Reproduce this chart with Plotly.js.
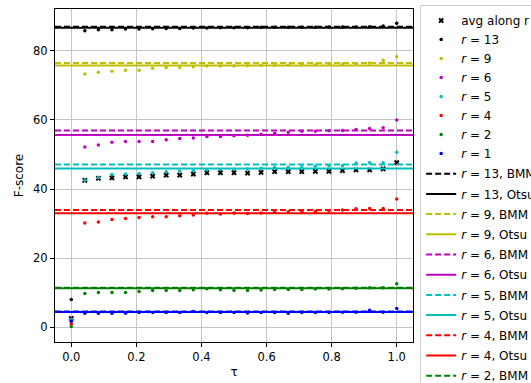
<!DOCTYPE html>
<html>
<head>
<meta charset="utf-8">
<script src="https://cdn.plot.ly/plotly-3.0.1.min.js"></script>
<style>html,body{margin:0;padding:0;background:#fff;}#chart{width:531px;height:383px;}</style>
</head>
<body>
<div id="chart"></div>
<script>
// tau values (x positions)
const tau = [0.0000, 0.0417, 0.0833, 0.1250, 0.1667, 0.2083, 0.2500, 0.2917, 0.3333, 0.3750,
             0.4167, 0.4583, 0.5000, 0.5417, 0.5833, 0.6250, 0.6667, 0.7083, 0.7500, 0.7917,
             0.8333, 0.8750, 0.9167, 0.9583, 1.0000];

const avgR = [2.6, 42.5, 43.1, 43.2, 43.5, 43.5, 43.7, 44.0, 44.0, 44.3, 44.7, 44.7, 44.7,
              44.6, 44.8, 45.0, 45.0, 45.0, 45.1, 45.1, 45.3, 45.5, 45.5, 45.8, 47.6];
const r13 = [8.1, 85.7, 86.0, 86.0, 86.2, 86.2, 86.3, 86.4, 86.4, 86.5, 86.5, 86.6, 86.6,
             86.6, 86.7, 86.7, 86.7, 86.7, 86.7, 86.8, 86.8, 86.8, 86.9, 87.1, 87.9];
const r9  = [2.3, 73.2, 73.7, 74.0, 74.3, 74.3, 74.9, 75.1, 75.1, 75.3, 75.5, 75.5, 75.5,
             75.6, 75.7, 75.7, 75.8, 75.8, 75.9, 76.0, 76.1, 76.2, 76.4, 77.2, 78.2];
const r6  = [2.4, 52.1, 52.7, 53.5, 53.7, 53.7, 53.7, 54.2, 54.6, 54.7, 55.2, 55.2, 55.4,
             55.5, 55.8, 56.1, 56.4, 56.7, 56.7, 56.8, 56.9, 57.2, 57.5, 57.7, 59.9];
const r5  = [2.2, 42.5, 43.3, 44.2, 44.3, 44.5, 44.7, 45.0, 45.2, 45.3, 45.5, 45.6, 45.7,
             45.8, 46.0, 46.2, 46.3, 46.4, 46.6, 46.7, 46.8, 47.5, 47.6, 47.6, 50.6];
const r4  = [1.1, 30.2, 30.5, 31.2, 31.5, 31.8, 32.0, 32.0, 32.3, 32.5, 33.0, 32.8, 33.1,
             32.9, 33.1, 33.3, 33.4, 33.5, 33.5, 33.7, 33.9, 34.3, 34.4, 34.4, 37.1];
const r2  = [0.3, 9.8, 10.1, 10.1, 10.1, 10.4, 10.7, 10.7, 10.7, 10.9, 11.2, 10.9, 10.7,
             10.7, 10.8, 11.0, 11.0, 11.0, 11.1, 11.1, 11.2, 11.3, 11.5, 11.5, 12.6];
const r1  = [1.8, 4.1, 4.1, 4.1, 4.1, 4.3, 4.3, 4.3, 4.3, 4.6, 4.3, 4.3, 4.3,
             4.2, 4.3, 4.3, 4.1, 4.3, 4.3, 4.3, 4.4, 4.4, 5.0, 4.4, 5.5];

const rLabels = ['13', '9', '6', '5', '4', '2', '1'];
const rColors = ['#000000', '#bfbf00', '#bf00bf', '#00bfbf', '#ff0000', '#008000', '#0000ff'];
const rSeries = [r13, r9, r6, r5, r4, r2, r1];
const bmm  = [86.9, 76.4, 56.9, 47.1, 33.9, 11.5, 4.6];
const otsu = [86.6, 75.7, 55.6, 45.9, 33.0, 11.3, 4.5];
const xSpan = [-0.05, 1.05];

const font = 'DejaVu Sans, sans-serif';
const traces = [];
traces.push({
  x: tau, y: avgR, type: 'scatter', mode: 'markers', name: 'avg along r', legendgroup: 'pts',
  marker: {symbol: 'x', size: 5, color: '#000000', line: {width: 0}}
});
rSeries.forEach((s, i) => {
  traces.push({
    x: tau, y: s, type: 'scatter', mode: 'markers', name: '<i>r</i> = ' + rLabels[i],
    legendgroup: 'pts',
    marker: {symbol: 'circle', size: 3.5, color: rColors[i], line: {width: 0}}
  });
});
rLabels.forEach((lab, i) => {
  traces.push({
    x: xSpan, y: [bmm[i], bmm[i]], type: 'scatter', mode: 'lines',
    name: '<i>r</i> = ' + lab + ', BMM', legendgroup: 'b' + i,
    line: {color: rColors[i], width: 2, dash: '6px,3px'}
  });
  traces.push({
    x: xSpan, y: [otsu[i], otsu[i]], type: 'scatter', mode: 'lines',
    name: '<i>r</i> = ' + lab + ', Otsu', legendgroup: 'o' + i,
    line: {color: rColors[i], width: 2}
  });
});

const layout = {
  width: 531, height: 383,
  margin: {l: 55, r: 118, t: 9, b: 41, autoexpand: false},
  paper_bgcolor: '#ffffff', plot_bgcolor: '#ffffff',
  font: {family: font, size: 11.5, color: '#000000'},
  showlegend: true,
  legend: {
    x: 1.02, y: 1.012, xanchor: 'left', yanchor: 'top',
    bgcolor: '#ffffff', bordercolor: '#cccccc', borderwidth: 1,
    font: {family: font, size: 12, color: '#000000'},
    traceorder: 'grouped', tracegroupgap: 1.2, maxheight: 2000
  },
  xaxis: {
    range: xSpan, tickvals: [0, 0.2, 0.4, 0.6, 0.8, 1.0], tickformat: '.1f',
    showgrid: true, gridcolor: '#c4c4c4', gridwidth: 1, zeroline: false,
    showline: true, linecolor: '#000000', linewidth: 1, mirror: true,
    ticks: 'outside', ticklen: 4, tickcolor: '#000000',
    title: {text: 'τ', font: {family: font, size: 12}, standoff: 4}
  },
  yaxis: {
    range: [-4.2, 92.0], tickvals: [0, 20, 40, 60, 80],
    showgrid: true, gridcolor: '#c4c4c4', gridwidth: 1, zeroline: false,
    showline: true, linecolor: '#000000', linewidth: 1, mirror: true,
    ticks: 'outside', ticklen: 4, tickcolor: '#000000',
    title: {text: 'F-score', font: {family: font, size: 12}, standoff: 6}
  }
};

Plotly.newPlot('chart', traces, layout, {displayModeBar: false, staticPlot: true});
</script>
</body>
</html>
